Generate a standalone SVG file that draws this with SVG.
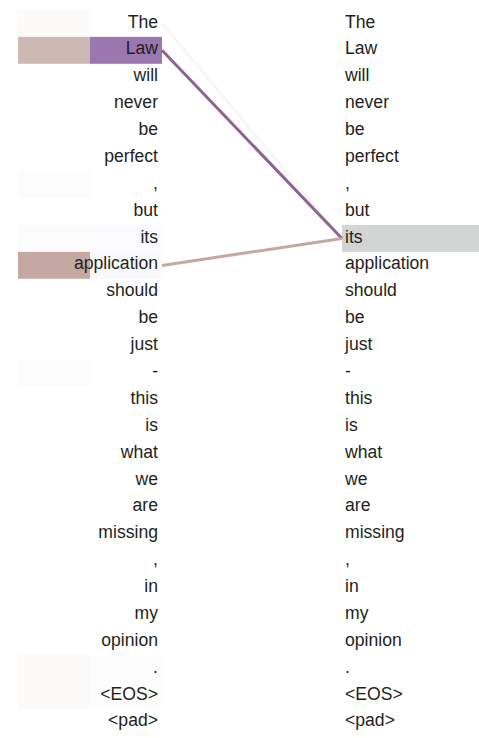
<svg xmlns="http://www.w3.org/2000/svg" width="479" height="738" viewBox="0 0 479 738">
<style>
text{font-family:"Liberation Sans",Arial,sans-serif;font-size:17.6px;fill:#231f20}
.l{text-anchor:end}
.c{fill:none;stroke-width:3}
</style>
<rect width="479" height="738" fill="#fff"/>
<g id="boxes">
<rect x="18" y="10" width="72" height="26.9" fill="#fdfbfa"/>
<rect x="18" y="36.9" width="72" height="26.9" fill="#cdb8b3"/>
<rect x="90" y="36.9" width="72" height="26.9" fill="#9b77b0"/>
<rect x="18" y="171.3" width="72" height="26.9" fill="#fdfcfc"/>
<rect x="18" y="225" width="72" height="26.9" fill="#fdfcfc"/>
<rect x="90" y="225" width="72" height="26.9" fill="#fcfcfe"/>
<rect x="18" y="251.9" width="72" height="26.9" fill="#c6a8a2"/>
<rect x="90" y="251.9" width="72" height="26.9" fill="#fafafd"/>
<rect x="18" y="359.4" width="72" height="26.9" fill="#fdfcfc"/>
<rect x="18" y="655.1" width="72" height="26.9" fill="#fcfbfa"/>
<rect x="90" y="655.1" width="72" height="26.9" fill="#fdfdfd"/>
<rect x="18" y="682" width="72" height="26.9" fill="#fcfbfa"/>
<rect x="90" y="682" width="72" height="26.9" fill="#fdfdfd"/>
<rect x="342" y="225" width="137" height="26.9" fill="#d3d5d4"/>
</g>
<g id="connectors">
<line class="c" x1="162" y1="23.4" x2="342" y2="238.5" stroke="#faf6f4"/>
<line class="c" x1="162" y1="50.3" x2="342" y2="238.5" stroke="#8e6392"/>
<line class="c" x1="162" y1="265.4" x2="342" y2="238.5" stroke="#c4a8a2"/>
</g>
<g id="source">
<text class="l" x="158" y="27.5">The</text>
<text class="l" x="158" y="54.4">Law</text>
<text class="l" x="158" y="81.3">will</text>
<text class="l" x="158" y="108.1">never</text>
<text class="l" x="158" y="135">be</text>
<text class="l" x="158" y="161.9">perfect</text>
<text class="l" x="158" y="188.8">,</text>
<text class="l" x="158" y="215.7">but</text>
<text class="l" x="158" y="242.5">its</text>
<text class="l" x="158" y="269.4">application</text>
<text class="l" x="158" y="296.3">should</text>
<text class="l" x="158" y="323.2">be</text>
<text class="l" x="158" y="350.1">just</text>
<text class="l" x="158" y="376.9">-</text>
<text class="l" x="158" y="403.8">this</text>
<text class="l" x="158" y="430.7">is</text>
<text class="l" x="158" y="457.6">what</text>
<text class="l" x="158" y="484.5">we</text>
<text class="l" x="158" y="511.3">are</text>
<text class="l" x="158" y="538.2">missing</text>
<text class="l" x="158" y="565.1">,</text>
<text class="l" x="158" y="592">in</text>
<text class="l" x="158" y="618.9">my</text>
<text class="l" x="158" y="645.7">opinion</text>
<text class="l" x="158" y="672.6">.</text>
<text class="l" x="158" y="699.5">&lt;EOS&gt;</text>
<text class="l" x="158" y="726.4">&lt;pad&gt;</text>
</g>
<g id="target">
<text x="345" y="27.5">The</text>
<text x="345" y="54.4">Law</text>
<text x="345" y="81.3">will</text>
<text x="345" y="108.1">never</text>
<text x="345" y="135">be</text>
<text x="345" y="161.9">perfect</text>
<text x="345" y="188.8">,</text>
<text x="345" y="215.7">but</text>
<text x="345" y="242.5">its</text>
<text x="345" y="269.4">application</text>
<text x="345" y="296.3">should</text>
<text x="345" y="323.2">be</text>
<text x="345" y="350.1">just</text>
<text x="345" y="376.9">-</text>
<text x="345" y="403.8">this</text>
<text x="345" y="430.7">is</text>
<text x="345" y="457.6">what</text>
<text x="345" y="484.5">we</text>
<text x="345" y="511.3">are</text>
<text x="345" y="538.2">missing</text>
<text x="345" y="565.1">,</text>
<text x="345" y="592">in</text>
<text x="345" y="618.9">my</text>
<text x="345" y="645.7">opinion</text>
<text x="345" y="672.6">.</text>
<text x="345" y="699.5">&lt;EOS&gt;</text>
<text x="345" y="726.4">&lt;pad&gt;</text>
</g>
</svg>
